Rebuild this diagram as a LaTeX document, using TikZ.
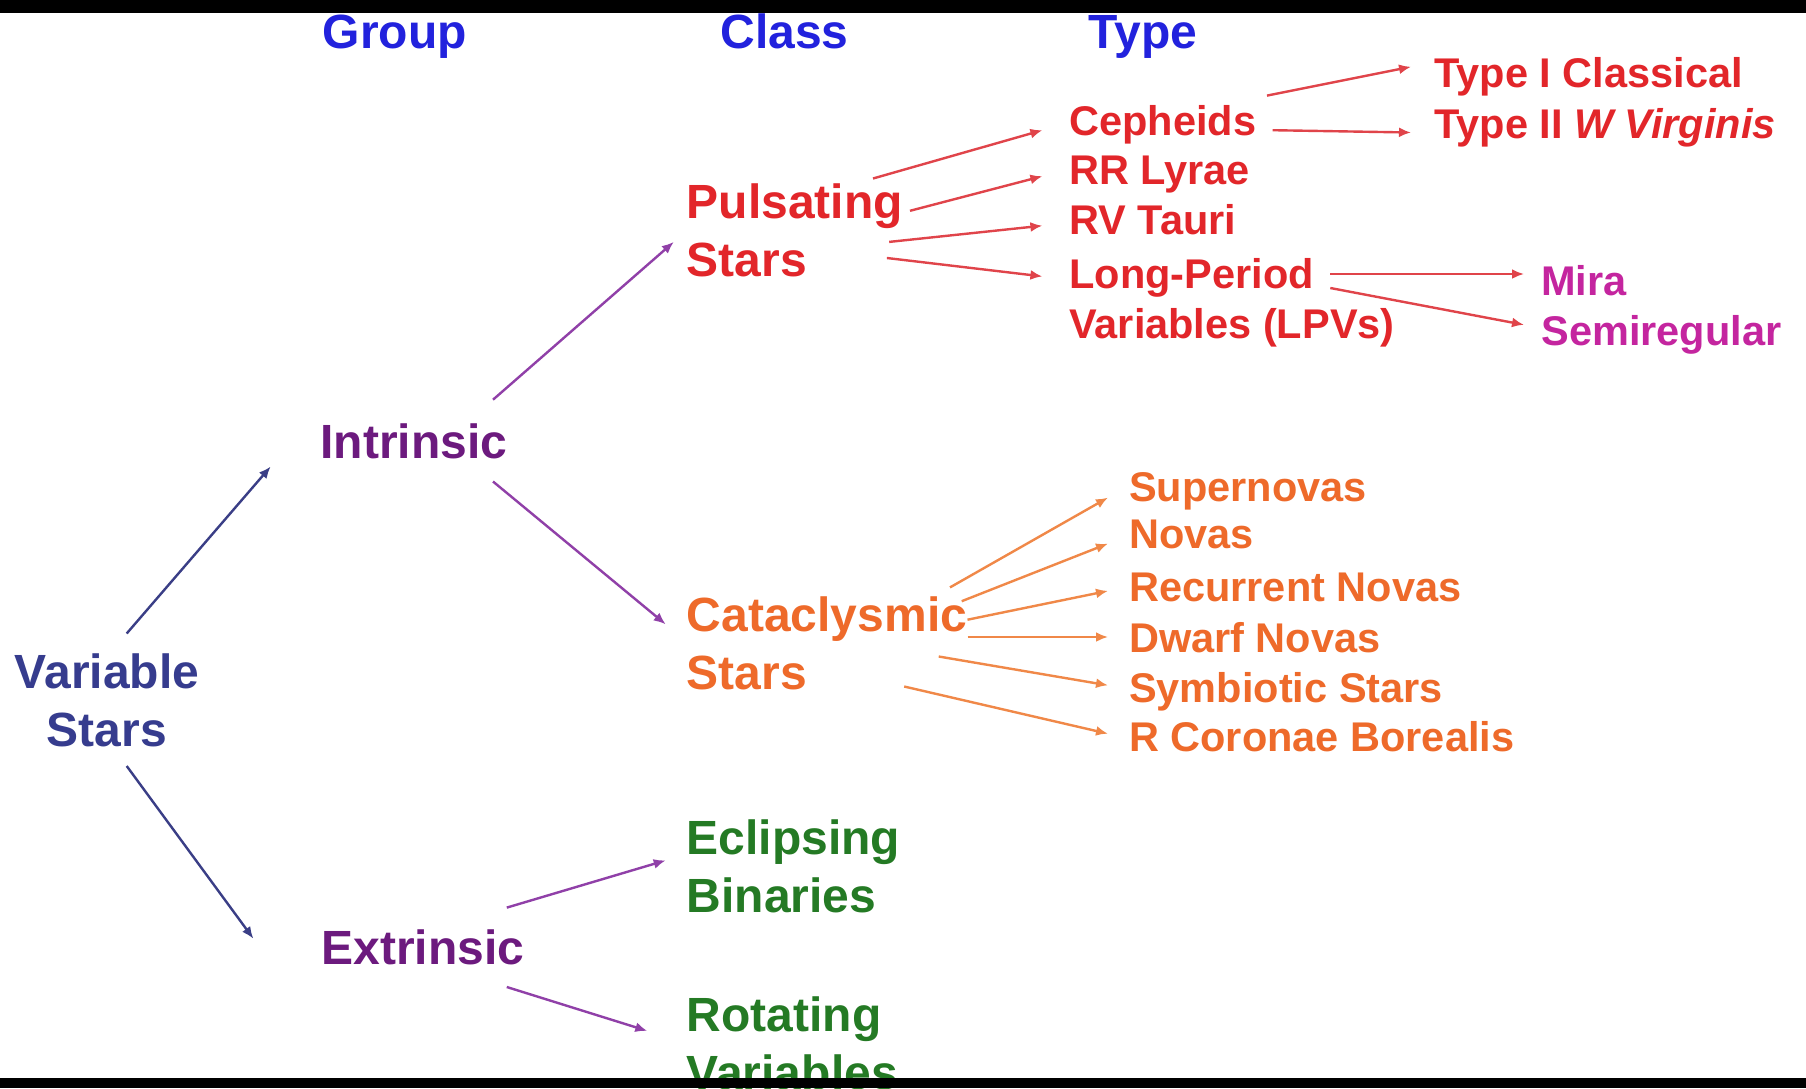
\documentclass[tikz,border=0pt]{standalone}
\usepackage{fontspec}
\setmainfont{Liberation Sans}
\usetikzlibrary{arrows.meta}
\definecolor{hdr}{HTML}{2222DD}
\definecolor{vsc}{HTML}{363C8E}
\definecolor{vsa}{HTML}{3A3E86}
\definecolor{ipc}{HTML}{6C1A7E}
\definecolor{ipa}{HTML}{9040A8}
\definecolor{redc}{HTML}{E2262A}
\definecolor{reda}{HTML}{E0444A}
\definecolor{mag}{HTML}{C4259F}
\definecolor{org}{HTML}{EE6A2A}
\definecolor{orga}{HTML}{F08848}
\definecolor{grn}{HTML}{247A24}
\begin{document}
\begin{tikzpicture}[x=0.5pt,y=-0.5pt,
  big/.style={inner sep=0pt, anchor=base west, font=\fontsize{24}{29}\selectfont\bfseries},
  small/.style={inner sep=0pt, anchor=base west, font=\fontsize{20.75}{25}\selectfont\bfseries},
  arr/.style={-{Latex[length=6pt,width=5pt]}, line width=1.2pt}]
\fill[white] (0,0) rectangle (1806,1088);
\useasboundingbox (0,0) rectangle (1806,1088);
% headers
\node[big,text=hdr] (grp) at (322.5,48) {Group};
\node[big,text=hdr] (cls) at (720,48) {Class};
\node[big,text=hdr] (typ) at (1088.5,48) {Type};
% group level
\node[big,text=vsc,anchor=base] (vs) at (107,688.5) {\begin{tabular}[t]{@{}c@{}}Variable\\Stars\end{tabular}};
\node[big,text=ipc] (intr) at (320,458) {Intrinsic};
\node[big,text=ipc] (extr) at (321,964) {Extrinsic};
% class level
\node[big,text=redc] (puls) at (686.5,218.5) {\begin{tabular}[t]{@{}l@{}}Pulsating\\Stars\end{tabular}};
\node[big,text=org] (cat) at (686.5,631) {\begin{tabular}[t]{@{}l@{}}Cataclysmic\\Stars\end{tabular}};
\node[big,text=grn] (ecl) at (686.5,854) {\begin{tabular}[t]{@{}l@{}}Eclipsing\\Binaries\end{tabular}};
\node[big,text=grn] (rot) at (686.5,1031) {\begin{tabular}[t]{@{}l@{}}Rotating\\Variables\end{tabular}};
% types (pulsating)
\node[small,text=redc] (ceph) at (1069,135) {Cepheids};
\node[small,text=redc] (rrl) at (1069,184) {RR Lyrae};
\node[small,text=redc] (rvt) at (1069,234) {RV Tauri};
\node[small,text=redc] (lpv) at (1069,288) {\begin{tabular}[t]{@{}l@{}}Long-Period\\Variables (LPVs)\end{tabular}};
\node[small,text=redc] (t1) at (1434,87.6) {Type I Classical};
\node[small,text=redc] (t2) at (1434,138) {Type II \textit{W Virginis}};
\node[small,text=mag] (mira) at (1541,295) {Mira};
\node[small,text=mag] (semi) at (1541,345.5) {Semiregular};
% types (cataclysmic)
\node[small,text=org] (sup) at (1128.8,501) {Supernovas};
\node[small,text=org] (nov) at (1128.8,548) {Novas};
\node[small,text=org] (rec) at (1128.8,601) {Recurrent Novas};
\node[small,text=org] (dwf) at (1128.8,652) {Dwarf Novas};
\node[small,text=org] (sym) at (1128.8,702.6) {Symbiotic Stars};
\node[small,text=org] (rcb) at (1128.8,751) {R Coronae Borealis};
% arrows
\draw[arr,vsa] ([shift={(19.7,-55)}]vs.base) -- ([shift={(-49.3,8.5)}]intr.base west);
\draw[arr,vsa] ([shift={(19.7,77.5)}]vs.base) -- ([shift={(-67.6,-25.3)}]extr.base west);
\draw[arr,ipa] ([shift={(173,-58.3)}]intr.base west) -- ([shift={(-12.7,23.4)}]puls.base west);
\draw[arr,ipa] ([shift={(173,23.5)}]intr.base west) -- ([shift={(-20.8,-6.7)}]cat.base west);
\draw[arr,ipa] ([shift={(185.8,-56.4)}]extr.base west) -- ([shift={(-20.8,6.4)}]ecl.base west);
\draw[arr,ipa] ([shift={(185.8,23)}]extr.base west) -- ([shift={(-39.2,-0.1)}]rot.base west);
\draw[arr,reda] ([shift={(186.5,-40)}]puls.base west) -- ([shift={(-26.6,-4.8)}]ceph.base west);
\draw[arr,reda] ([shift={(223.5,-7.7)}]puls.base west) -- ([shift={(-26.6,-7.8)}]rrl.base west);
\draw[arr,reda] ([shift={(202.7,23.4)}]puls.base west) -- ([shift={(-26.6,-8.3)}]rvt.base west);
\draw[arr,reda] ([shift={(200.4,39.5)}]puls.base west) -- ([shift={(-26.6,-11.6)}]lpv.base west);
\draw[arr,reda] ([shift={(198,-39.4)}]ceph.base west) -- ([shift={(-23,-20.8)}]t1.base west);
\draw[arr,reda] ([shift={(203.7,-4.8)}]ceph.base west) -- ([shift={(-23,-5.5)}]t2.base west);
\draw[arr,reda] ([shift={(261.3,-14)}]lpv.base west) -- ([shift={(-17,-21)}]mira.base west);
\draw[arr,reda] ([shift={(261.3,0)}]lpv.base west) -- ([shift={(-17,-20.7)}]semi.base west);
\draw[arr,orga] ([shift={(263.5,-43.6)}]cat.base west) -- ([shift={(-20.8,-3.4)}]sup.base west);
\draw[arr,orga] ([shift={(275.2,-29.8)}]cat.base west) -- ([shift={(-20.8,-4.4)}]nov.base west);
\draw[arr,orga] ([shift={(281,-11.3)}]cat.base west) -- ([shift={(-20.8,-10.1)}]rec.base west);
\draw[arr,orga] ([shift={(281,6)}]cat.base west) -- ([shift={(-20.8,-15)}]dwf.base west);
\draw[arr,orga] ([shift={(252.2,25.5)}]cat.base west) -- ([shift={(-20.8,-17.3)}]sym.base west);
\draw[arr,orga] ([shift={(217.7,55.5)}]cat.base west) -- ([shift={(-20.8,-17.3)}]rcb.base west);
% black bars
\fill[black] (0,0) rectangle (1806,13);
\fill[black] (0,1078) rectangle (1806,1088);
\end{tikzpicture}
\end{document}
